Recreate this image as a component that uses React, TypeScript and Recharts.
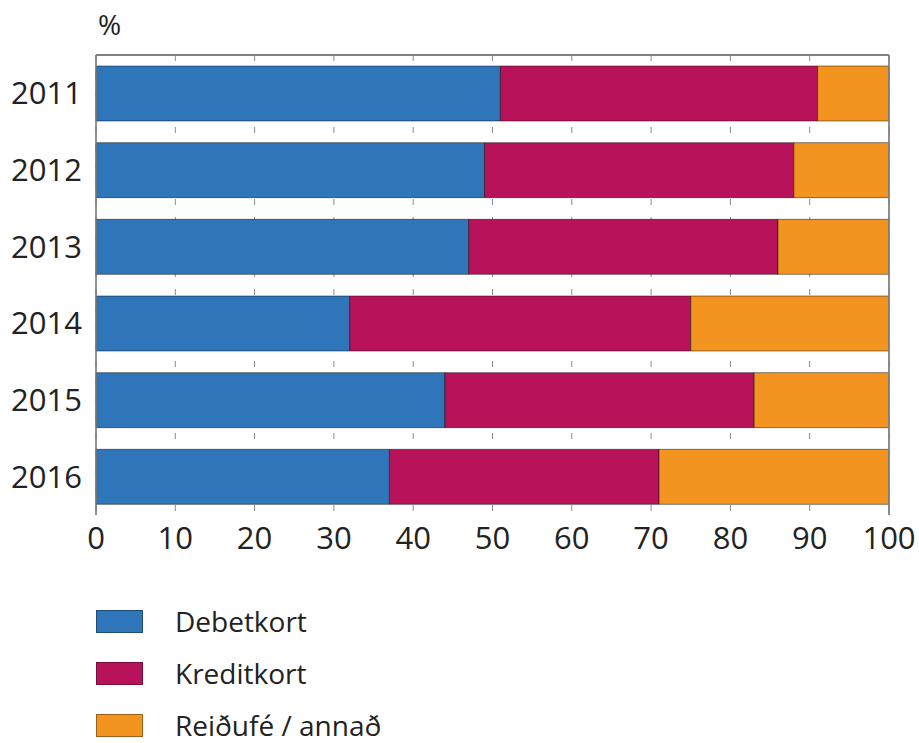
import React from 'react'
import { BarChart, Bar, XAxis, YAxis, CartesianGrid, ReferenceLine } from 'recharts'

const years = ['2011', '2012', '2013', '2014', '2015', '2016']
const debetkort = [51, 49, 47, 32, 44, 37]
const kreditkort = [40, 39, 39, 43, 39, 34]
const reidufe = [9, 12, 14, 25, 17, 29]
const xTicks = [0, 10, 20, 30, 40, 50, 60, 70, 80, 90, 100]

const series = [
    { key: 'debet', name: 'Debetkort', color: '#2e75b9' },
    { key: 'kredit', name: 'Kreditkort', color: '#b8135a' },
    { key: 'reidufe', name: 'Reiðufé / annað', color: '#f39420' },
]

const data = years.map((year, i) => ({
    year,
    debet: debetkort[i],
    kredit: kreditkort[i],
    reidufe: reidufe[i],
}))

const font = '"Open Sans", "Noto Sans", sans-serif'
const tickStyle = { fill: '#222', fontSize: 31, fontFamily: font }

export default function App() {
    return (
        <div style={{ position: 'absolute', left: 0, top: 0, width: 919, height: 743, background: '#fff', fontFamily: font }}>
            <div style={{ position: 'absolute', left: 98, top: 5, fontSize: 28, color: '#222' }}>%</div>
            <BarChart
                width={919}
                height={743}
                data={data}
                layout="vertical"
                barCategoryGap={11}
                margin={{ top: 55, right: 30, left: 0, bottom: 178 }}
            >
                <CartesianGrid
                    xAxisId="main"
                    horizontal={false}
                    stroke="#8a8a8a"
                    strokeDasharray="6 12"
                />
                {/* top edge of the plot frame */}
                <CartesianGrid
                    xAxisId="main"
                    vertical={false}
                    horizontalCoordinatesGenerator={({ offset }: any) => [offset.top]}
                    stroke="#808080"
                    strokeWidth={1.8}
                />
                <XAxis
                    xAxisId="main"
                    type="number"
                    domain={[0, 100]}
                    ticks={xTicks}
                    interval={0}
                    height={50}
                    axisLine={false}
                    tickLine={false}
                    tickSize={6}
                    tickMargin={6}
                    tick={tickStyle}
                />
                <YAxis
                    type="category"
                    dataKey="year"
                    width={96}
                    tickLine={false}
                    tickSize={6}
                    tickMargin={8}
                    axisLine={{ stroke: '#777', strokeWidth: 1.6 }}
                    tick={tickStyle}
                />
                {series.map((s) => (
                    <Bar
                        key={s.key}
                        xAxisId="main"
                        dataKey={s.key}
                        name={s.name}
                        stackId="a"
                        fill={s.color}
                        stroke="rgba(0,0,0,0.45)"
                        strokeWidth={1}
                        isAnimationActive={false}
                    />
                ))}
                {/* right edge of the plot frame */}
                <ReferenceLine xAxisId="main" x={100} stroke="#808080" strokeWidth={1.8} ifOverflow="visible" />
            </BarChart>
            {series.map((s, i) => (
                <div
                    key={s.key}
                    style={{ position: 'absolute', left: 96, top: 606 + i * 52, height: 30, display: 'flex', alignItems: 'center' }}
                >
                    <div style={{ width: 45, height: 21, background: s.color, border: '1px solid rgba(0,0,0,0.35)' }} />
                    <span style={{ marginLeft: 32, fontSize: 28, lineHeight: '30px', color: '#222', whiteSpace: 'nowrap' }}>{s.name}</span>
                </div>
            ))}
        </div>
    )
}
